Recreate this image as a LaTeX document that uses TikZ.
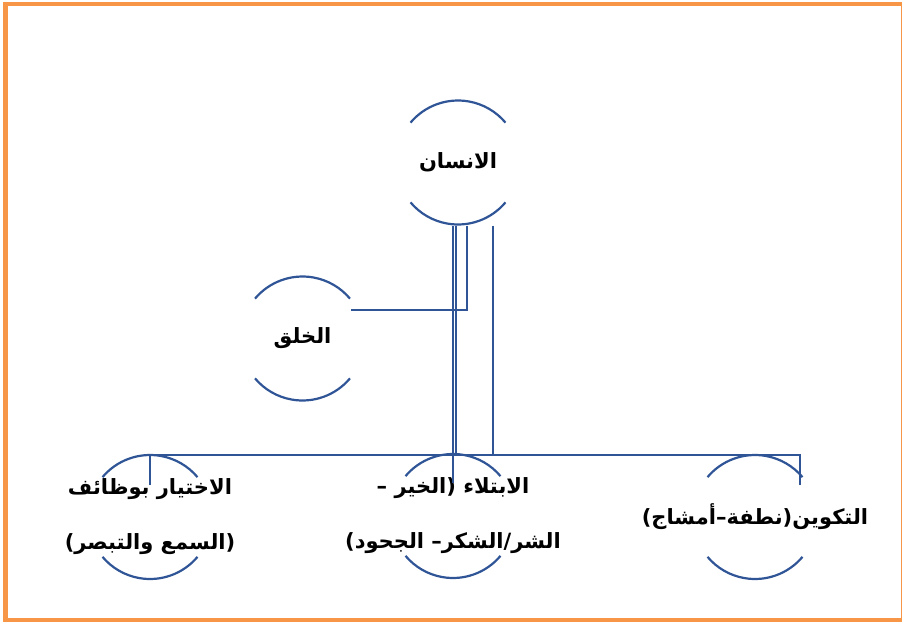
\documentclass[tikz,border=0pt]{standalone}
\usepackage{fontspec}
\usepackage{tikz}
\usetikzlibrary{positioning}
\newfontfamily\arabicfont[Script=Arabic]{DejaVu Sans}
\TeXXeTstate=1
\newcommand{\artext}[1]{\beginR#1\endR}
\definecolor{linkblue}{RGB}{47,85,151}
\definecolor{frameorange}{RGB}{247,150,70}

\begin{document}
\begin{tikzpicture}[
  x=1pt, y=-1pt,
  lbl/.style={align=center, inner sep=0pt,
              font=\arabicfont\bfseries\fontsize{21}{55}\selectfont},
  ring/.style={draw=linkblue, line width=2.2pt},
  link/.style={draw=linkblue, line width=2.2pt},
]
\useasboundingbox (0,0) rectangle (902,621);
\draw[frameorange, line width=4.5pt] (5.5,4) rectangle (903.5,620);

\node[lbl] (insan) at (458,162.5) {\artext{الانسان}};
\node[lbl] (khalq) at (302.5,338.5) {\artext{الخلق}};
\node[lbl] (ikhtiyar) at (150,517) {\artext{الاختيار بوظائف}\\\artext{(السمع والتبصر)}};
\node[lbl] (ibtila) at (453,516) {\artext{الابتلاء (الخير –}\\\artext{الشر/الشكر– الجحود)}};
\node[lbl] (takwin) at (755,517) {\artext{التكوين(نطفة–أمشاج)}};

\foreach \n in {insan,khalq,ikhtiyar,ibtila,takwin}{
  \draw[ring] ([shift={(40:62)}]\n.center) arc[start angle=-40, end angle=-140, radius=62pt];
  \draw[ring] ([shift={(220:62)}]\n.center) arc[start angle=-220, end angle=-320, radius=62pt];
}

\coordinate (bus) at ([shift={(0,-61)}]ibtila.center);

\draw[link] ([shift={(-5,63)}]insan.center) -- ([shift={(0,-33)}]ibtila.center);
\draw[link] ([shift={(-2,63)}]insan.center) coordinate (b1) -- (b1 |- bus);
\draw[link] ([shift={(9,63)}]insan.center) |- ([shift={(48,-28.5)}]khalq.center);
\draw[link] ([shift={(35,63)}]insan.center) coordinate (d1) -- (d1 |- bus);
\draw[link] ([shift={(0,-32)}]ikhtiyar.center) |- ([shift={(45,-62)}]takwin.center)
  -- ([shift={(45,-32)}]takwin.center);
\end{tikzpicture}
\end{document}
